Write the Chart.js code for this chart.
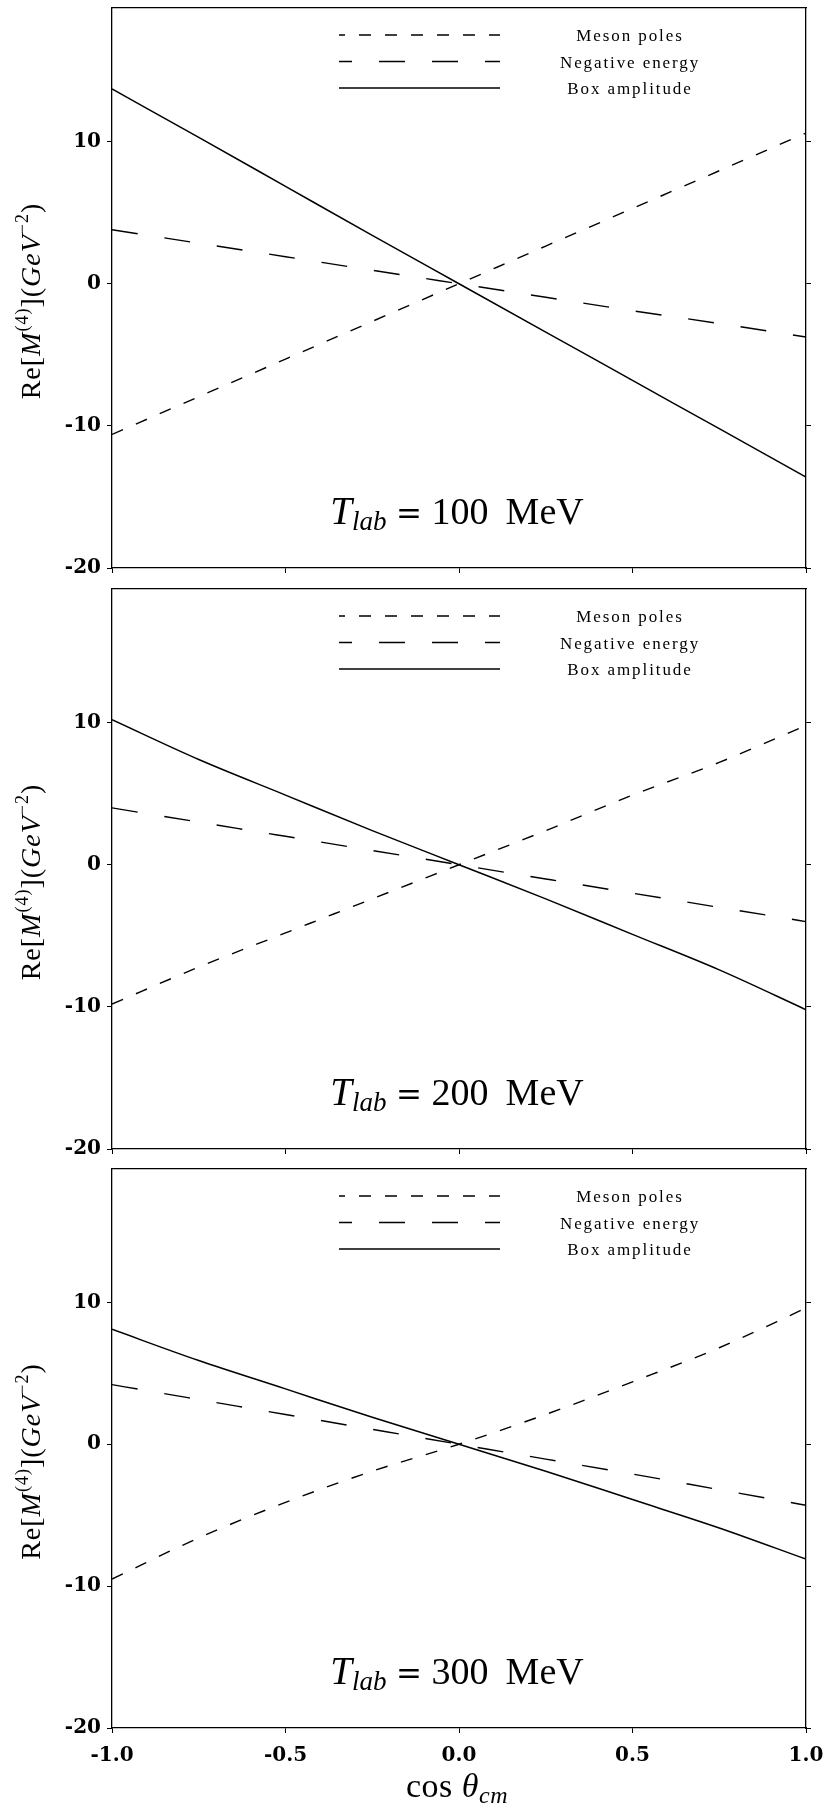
<!DOCTYPE html>
<html>
<head>
<meta charset="utf-8">
<script src="https://cdn.jsdelivr.net/npm/chart.js@4"></script>
<style>
  html, body { margin: 0; padding: 0; background: #fff; }
  #wrap { position: relative; width: 835px; height: 1814px; }
  canvas { position: absolute; left: 0; }
</style>
</head>
<body>
<div id="wrap">
  <canvas id="p100" width="835" height="580" style="top:0px"></canvas>
  <canvas id="p200" width="835" height="580" style="top:580px"></canvas>
  <canvas id="p300" width="835" height="654" style="top:1160px"></canvas>
</div>
<script>
  // cos(theta_cm) sample points
  const cosTheta = [-1, -0.75, -0.5, -0.25, 0, 0.25, 0.5, 0.75, 1];

  // T_lab = 100 MeV
  const meson100    = [-10.6, -7.95, -5.3, -2.65, 0, 2.65, 5.3, 7.95, 10.6];
  const negative100 = [3.8, 2.85, 1.9, 0.95, 0, -0.95, -1.9, -2.8, -3.75];
  const box100      = [13.7, 10.3, 6.85, 3.4, 0, -3.4, -6.8, -10.2, -13.6];

  // T_lab = 200 MeV
  const meson200    = [-9.8, -7.2, -4.8, -2.4, 0, 2.4, 4.9, 7.2, 9.8];
  const negative200 = [4.0, 3.0, 2.0, 1.0, 0, -1.0, -2.0, -3.0, -4.0];
  const box200      = [10.2, 7.4, 4.9, 2.4, 0, -2.4, -4.9, -7.4, -10.2];

  // T_lab = 300 MeV
  const meson300    = [-9.5, -6.6, -4.1, -1.9, 0, 2.1, 4.4, 6.8, 9.6];
  const negative300 = [4.2, 3.15, 2.1, 1.05, 0, -1.05, -2.1, -3.2, -4.3];
  const box300      = [8.1, 5.9, 3.9, 1.9, 0, -1.9, -3.9, -5.9, -8.1];

  const yTicks = [-20, -10, 0, 10];

  const SERIF = '"Liberation Serif", "Times New Roman", serif';
  const DJV = '"DejaVu Serif", serif';
  const tickFont = { family: DJV, size: 20, weight: 'bold' };

  function pairs(ys) {
    return cosTheta.map((x, i) => ({ x: x, y: ys[i] }));
  }

  function partFont(p) {
    return (p.italic ? 'italic ' : '') + p.size + 'px ' + (p.family || SERIF);
  }

  // draw a run of text pieces (roman / italic / sub / sup) left to right
  function drawRich(ctx, parts, x, y, align, spacing) {
    ctx.letterSpacing = (spacing || 0) + 'px';
    let total = 0;
    parts.forEach(p => {
      ctx.font = partFont(p);
      p.w = ctx.measureText(p.t).width;
      total += p.w;
    });
    let cx = align === 'center' ? x - total / 2 : x;
    ctx.textAlign = 'left';
    parts.forEach(p => {
      ctx.font = partFont(p);
      ctx.fillText(p.t, cx, y + (p.dy || 0));
      cx += p.w;
    });
    ctx.letterSpacing = '0px';
  }

  const panelDecor = {
    id: 'panelDecor',
    afterDraw(chart, args, opts) {
      const { ctx, chartArea: a } = chart;
      ctx.save();
      ctx.fillStyle = '#000';
      ctx.strokeStyle = '#000';

      // legend, top middle of the panel
      chart.data.datasets.forEach((ds, i) => {
        const y = a.top + 27 + i * 26.5;
        const dash = ds.borderDash || [];
        ctx.setLineDash(dash);
        ctx.lineDashOffset = dash.length ? dash[0] / 2 : 0;
        ctx.lineWidth = ds.borderWidth;
        ctx.beginPath();
        ctx.moveTo(339, y);
        ctx.lineTo(500, y);
        ctx.stroke();
        ctx.setLineDash([]);
        ctx.font = '17px ' + SERIF;
        ctx.letterSpacing = '1.9px';
        ctx.textAlign = 'center';
        ctx.textBaseline = 'middle';
        ctx.fillText(ds.label, 630, y + 2);
        ctx.letterSpacing = '0px';
      });

      ctx.textBaseline = 'alphabetic';

      // T_lab annotation
      drawRich(ctx, [
        { t: 'T', size: 39, italic: true },
        { t: 'lab', size: 27, italic: true, dy: 6 },
        { t: ' ', size: 38 },
        { t: '=', size: 31, family: DJV },
        { t: ' ' + opts.tlab + ' \u2009MeV', size: 38 }
      ], 457, a.bottom - 44, 'center', 0);

      // y axis title, rotated
      ctx.save();
      ctx.translate(40, (a.top + a.bottom) / 2 + 13);
      ctx.rotate(-Math.PI / 2);
      drawRich(ctx, [
        { t: 'Re[', size: 28 },
        { t: 'M', size: 28, italic: true },
        { t: '(4)', size: 18, dy: -12 },
        { t: '](', size: 28 },
        { t: 'GeV', size: 28, italic: true },
        { t: '\u22122', size: 18, dy: -12 },
        { t: ')', size: 28 }
      ], 0, 0, 'center', 1);
      ctx.restore();

      // x axis title on the last panel
      if (opts.last) {
        drawRich(ctx, [
          { t: 'cos ', size: 34 },
          { t: '\u03b8', size: 34, italic: true },
          { t: 'cm', size: 24, italic: true, dy: 6 }
        ], 457, 637, 'center', 0.5);
      }
      ctx.restore();
    }
  };

  function makePanel(id, tlab, meson, negative, box, top, bottom, last) {
    const canvas = document.getElementById(id);
    const H = canvas.height;
    const border = { color: '#000', width: 1.3 };
    new Chart(canvas, {
      type: 'line',
      data: {
        datasets: [
          { label: 'Meson poles', data: pairs(meson), borderColor: '#000', borderWidth: 1.4, borderDash: [12, 14] },
          { label: 'Negative energy', data: pairs(negative), borderColor: '#000', borderWidth: 1.4, borderDash: [26, 27] },
          { label: 'Box amplitude', data: pairs(box), borderColor: '#000', borderWidth: 1.5 }
        ]
      },
      options: {
        responsive: false,
        animation: false,
        events: [],
        layout: { padding: { top: top, left: 0, right: 0, bottom: 0 } },
        elements: {
          point: { radius: 0 },
          line: { cubicInterpolationMode: 'monotone', fill: false }
        },
        plugins: {
          legend: { display: false },
          tooltip: { enabled: false },
          panelDecor: { tlab: tlab, last: last }
        },
        scales: {
          x: {
            type: 'linear',
            position: 'bottom',
            min: -1,
            max: 1,
            ticks: {
              stepSize: 0.5,
              display: last,
              color: '#000',
              font: tickFont,
              padding: 11,
              maxRotation: 0,
              callback: v => v.toFixed(1)
            },
            grid: { drawOnChartArea: false, tickLength: 5, color: '#000' },
            border: border,
            afterFit: s => { s.height = H - bottom; s.paddingLeft = 0; s.paddingRight = 0; }
          },
          xTop: {
            type: 'linear',
            position: 'top',
            min: -1,
            max: 1,
            ticks: { display: false },
            grid: { display: false },
            border: border,
            afterFit: s => { s.height = 0; s.paddingLeft = 0; s.paddingRight = 0; }
          },
          y: {
            position: 'left',
            min: -20,
            max: 19.4,
            afterBuildTicks: s => { s.ticks = yTicks.map(v => ({ value: v })); },
            ticks: { color: '#000', font: tickFont, padding: 6 },
            grid: { drawOnChartArea: false, tickLength: 5, color: '#000' },
            border: border,
            afterFit: s => { s.width = 112; s.paddingTop = 0; s.paddingBottom = 0; }
          },
          yRight: {
            position: 'right',
            min: -20,
            max: 19.4,
            afterBuildTicks: s => { s.ticks = yTicks.map(v => ({ value: v })); },
            ticks: { display: false },
            grid: { drawOnChartArea: false, tickLength: 5, color: '#000' },
            border: border,
            afterFit: s => { s.width = 29; s.paddingTop = 0; s.paddingBottom = 0; }
          }
        }
      },
      plugins: [panelDecor]
    });
  }

  makePanel('p100', 100, meson100, negative100, box100, 8, 568, false);
  makePanel('p200', 200, meson200, negative200, box200, 9, 569, false);
  makePanel('p300', 300, meson300, negative300, box300, 9, 568, true);
</script>
</body>
</html>
